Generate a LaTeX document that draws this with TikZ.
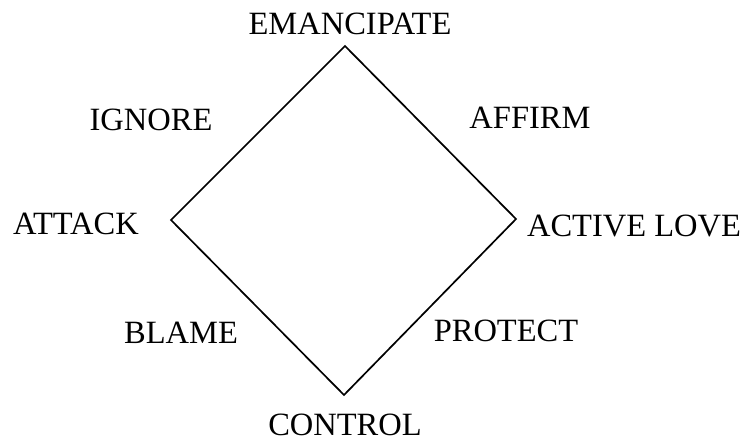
\documentclass[tikz,border=0pt]{standalone}
\usepackage{fontspec}
\setmainfont{Liberation Serif}
\usepackage{tikz}
\usetikzlibrary{positioning}

\begin{document}
\begin{tikzpicture}[
  x=1pt,y=-1pt,
  word/.style={inner sep=0pt,font=\fontsize{32.5}{38}\selectfont},
  edge/.style={line width=1.7pt,draw=black,line join=miter}
]
\useasboundingbox (0,0) rectangle (742,443);
% corners of the square
\coordinate (top) at (345,46);
\coordinate (right) at (516,219);
\coordinate (bottom) at (344,395);
\coordinate (left) at (171,220);
\draw[edge] (top) -- (right) -- (bottom) -- (left) -- cycle;
% labels
\node[word] (emancipate) at (350,24) {EMANCIPATE};
\node[word] (ignore) at (151,120) {IGNORE};
\node[word] (affirm) at (530,118) {AFFIRM};
\node[word] (attack) at (76,224) {ATTACK};
\node[word] (activelove) at (634,226) {ACTIVE LOVE};
\node[word] (blame) at (181,333) {BLAME};
\node[word] (protect) at (506,331) {PROTECT};
\node[word] (control) at (345,425) {CONTROL};
\end{tikzpicture}
\end{document}
